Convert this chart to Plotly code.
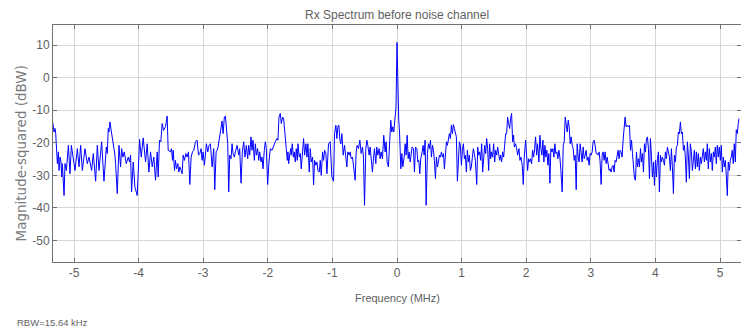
import plotly.graph_objects as go

# ---- data (frequency in MHz, power in dBW) ----
seg1_f = [-5.334,-5.309,-5.293,-5.283,-5.257,-5.242,-5.231,-5.216,-5.201,-5.190,
          -5.180,-5.154,-5.139,-5.118,-5.087,-5.062,-5.041,-5.015,-4.984,-4.948,
          -4.922,-4.897,-4.871,-4.830,-4.794,-4.768,-4.727,-4.701,-4.675,-4.665,
          -4.639,-4.613,-4.572,-4.536,-4.500,-4.485,-4.469,-4.459,-4.444,-4.418,
          -4.397,-4.366,-4.356,-4.330,-4.304,-4.279,-4.263,-4.243,-4.222,-4.191,
          -4.160,-4.140,-4.124,-4.109,-4.083,-4.073,-4.057,-4.021,-3.985,-3.959,
          -3.929,-3.892,-3.867,-3.841,-3.815,-3.789,-3.764,-3.738,-3.712,-3.697,
          -3.676,-3.656,-3.635,-3.614,-3.583,-3.558,-3.542]
seg1_p = [-13.1,-16.7,-15.6,-17.2,-26.4,-22.8,-28.5,-24.4,-25.9,-30.5,
          -26.4,-36.2,-26.4,-28.5,-20.8,-29.5,-20.8,-24.4,-28.5,-21.8,
          -27.4,-20.8,-28.5,-21.8,-26.4,-24.4,-28.5,-23.3,-29.0,-31.8,
          -20.8,-28.5,-19.7,-31.8,-21.3,-23.3,-15.6,-16.7,-13.6,-16.7,
          -20.3,-23.8,-26.4,-35.6,-20.8,-27.4,-21.8,-24.4,-22.8,-26.4,
          -24.4,-25.9,-23.8,-35.1,-25.9,-29.5,-33.6,-36.2,-19.0,-24.4,
          -18.5,-25.9,-20.3,-29.0,-22.8,-27.4,-24.4,-31.5,-22.8,-30.5,
          -19.2,-19.7,-14.1,-16.2,-15.1,-11.8,-22.3]

seg2_f = [-3.506,-3.491,-3.475,-3.465,-3.444,-3.429,-3.413,-3.393,-3.377,-3.362,
          -3.341,-3.326,-3.310,-3.290,-3.269,-3.249,-3.228,-3.207,-3.187,-3.166,
          -3.145,-3.120,-3.094,-3.073,-3.053,-3.032,-3.017,-3.001,-2.981,-2.965,
          -2.950,-2.929,-2.909,-2.888,-2.862,-2.837,-2.821,-2.800,-2.785,-2.770,
          -2.744,-2.723,-2.708,-2.692,-2.672,-2.656,-2.641,-2.620,-2.605,-2.589,
          -2.569,-2.553,-2.538,-2.517,-2.502,-2.476,-2.450,-2.435,-2.414,-2.394,
          -2.373,-2.353,-2.332,-2.311,-2.296,-2.280,-2.260,-2.244,-2.229,-2.208,
          -2.193,-2.177,-2.157,-2.141,-2.126,-2.105,-2.090,-2.074,-2.054,-2.038,
          -2.023,-2.002,-1.982,-1.961,-1.935,-1.909,-1.884,-1.858,-1.843,-1.827,
          -1.807,-1.791,-1.770,-1.755]
seg2_p = [-22.8,-21.8,-25.4,-22.3,-28.5,-25.4,-28.0,-26.4,-29.0,-27.4,
          -28.5,-29.5,-23.8,-25.4,-23.3,-24.4,-22.8,-32.8,-24.4,-22.8,
          -22.3,-19.7,-19.2,-23.8,-23.3,-21.8,-25.4,-22.8,-26.9,-24.4,
          -20.3,-22.8,-20.8,-20.3,-27.4,-21.8,-34.4,-22.8,-22.3,-21.3,
          -17.2,-15.1,-13.3,-17.2,-12.1,-11.8,-16.2,-20.3,-35.1,-23.8,
          -24.9,-20.3,-23.3,-24.4,-22.8,-20.8,-23.8,-21.8,-32.4,-22.8,
          -19.7,-24.4,-20.8,-24.9,-20.8,-23.8,-18.2,-22.3,-19.2,-25.4,
          -20.3,-23.8,-21.8,-25.4,-22.8,-25.9,-24.4,-28.0,-22.3,-19.7,
          -21.8,-32.8,-25.9,-21.8,-22.3,-20.8,-19.7,-18.7,-19.2,-12.1,
          -11.0,-14.1,-12.1,-12.6]

seg3_f = [-1.739,-1.729,-1.714,-1.698,-1.688,-1.677,-1.662,-1.647,-1.636,-1.621,
          -1.605,-1.590,-1.575,-1.559,-1.544,-1.533,-1.513,-1.497,-1.482,-1.461,
          -1.446,-1.430,-1.410,-1.394,-1.379,-1.358,-1.343,-1.327,-1.307,-1.291,
          -1.276,-1.255,-1.240,-1.224,-1.204,-1.188,-1.173,-1.152,-1.137,-1.121,
          -1.101,-1.085,-1.060,-1.034,-1.008,-0.982,-0.967,-0.946,-0.931,-0.915,
          -0.900,-0.884,-0.869,-0.854,-0.833,-0.812,-0.792,-0.776,-0.761,-0.740,
          -0.725,-0.709,-0.689,-0.673,-0.648,-0.632,-0.617,-0.596,-0.575,-0.555,
          -0.534,-0.519,-0.503,-0.483,-0.467,-0.452,-0.431,-0.416,-0.400,-0.380,
          -0.364,-0.349,-0.328,-0.313,-0.297,-0.277,-0.261,-0.246,-0.225,-0.205,
          -0.184,-0.169,-0.153,-0.133,-0.112,-0.096,-0.081,-0.066,-0.050]
seg3_p = [-17.2,-20.8,-21.8,-25.4,-22.8,-26.4,-24.4,-21.8,-23.8,-20.3,
          -24.4,-22.8,-25.9,-21.8,-25.4,-20.3,-24.4,-23.3,-28.0,-22.3,
          -18.7,-23.8,-20.3,-24.4,-20.3,-29.0,-21.8,-25.9,-24.4,-32.9,
          -25.4,-26.9,-25.9,-28.5,-29.0,-25.4,-30.0,-22.8,-25.4,-22.3,
          -23.3,-29.5,-20.3,-19.7,-30.5,-31.8,-17.2,-14.6,-18.7,-15.1,
          -14.6,-19.2,-20.3,-17.2,-23.8,-20.8,-24.4,-27.4,-22.8,-23.8,
          -22.8,-24.9,-24.4,-27.4,-31.5,-22.8,-20.8,-21.8,-19.2,-23.3,
          -21.3,-24.4,-39.2,-21.8,-19.2,-20.8,-23.8,-21.3,-24.9,-29.0,
          -24.9,-21.8,-26.4,-21.3,-23.8,-21.8,-24.9,-22.8,-24.9,-17.7,
          -22.8,-19.7,-25.9,-27.4,-19.2,-13.1,-16.7,-15.1,-16.7]

carrier_f = [-0.031, -0.015, 0.0, 0.015, 0.027]
carrier_p = [-12.5, -9.0, 10.8, -10.0, -13.0]

seg4_f = [0.039,0.059,0.075,0.090,0.111,0.126,0.142,0.157,0.173,0.188,
          0.204,0.219,0.234,0.255,0.270,0.286,0.307,0.322,0.337,0.353,
          0.368,0.389,0.404,0.420,0.435,0.451,0.471,0.487,0.502,0.518,
          0.533,0.549,0.564,0.579,0.595,0.610,0.626,0.641,0.657,0.672,
          0.688,0.703,0.719,0.734,0.749,0.765,0.780,0.796,0.811,0.827,
          0.842,0.858,0.873,0.888,0.904,0.919,0.935,0.950,0.966,0.981,
          0.997,1.012,1.028,1.043,1.058,1.074,1.089,1.105,1.120,1.136,
          1.151,1.167,1.182,1.197,1.213,1.234,1.249,1.264,1.280,1.295,
          1.311,1.326,1.342,1.357,1.373,1.388,1.403,1.419,1.434,1.450,
          1.465,1.481,1.496,1.512,1.527,1.543,1.558,1.573,1.589,1.604,
          1.620,1.635,1.651,1.666,1.682,1.697,1.712,1.728,1.743,1.759,
          1.774,1.790]
seg4_p = [-16.7,-28.0,-23.3,-27.4,-24.4,-20.3,-23.8,-17.7,-24.9,-22.8,
          -25.9,-23.3,-21.3,-21.8,-29.0,-21.3,-21.8,-25.9,-25.4,-29.5,
          -24.9,-22.8,-20.8,-23.8,-19.2,-39.2,-23.3,-20.3,-21.8,-19.2,
          -24.4,-20.8,-22.3,-25.4,-31.0,-24.4,-27.4,-25.9,-23.8,-24.4,
          -22.8,-24.4,-23.3,-28.0,-24.4,-19.7,-20.8,-19.2,-17.2,-18.7,
          -14.6,-17.2,-14.4,-15.6,-17.2,-18.2,-31.8,-24.4,-19.7,-20.8,
          -26.9,-22.3,-20.3,-24.9,-23.8,-29.0,-22.3,-25.9,-23.8,-28.5,
          -27.4,-24.4,-21.8,-23.3,-25.4,-32.8,-21.3,-23.8,-22.8,-25.4,
          -20.3,-29.0,-24.4,-20.8,-23.3,-18.7,-21.8,-28.5,-20.3,-24.9,
          -22.8,-24.4,-20.3,-25.9,-22.3,-23.8,-21.3,-22.8,-25.4,-23.8,
          -25.9,-22.8,-24.4,-20.8,-17.2,-17.2,-12.1,-14.1,-15.6,-12.6,
          -11.0,-19.7]

seg5_f = [1.805,1.816,1.836,1.852,1.867,1.888,1.903,1.919,1.939,1.955,
          1.970,1.991,2.006,2.022,2.037,2.053,2.068,2.084,2.099,2.114,
          2.130,2.145,2.161,2.176,2.197,2.212,2.228,2.243,2.259,2.274,
          2.290,2.305,2.320,2.336,2.351,2.367,2.382,2.398,2.413,2.429,
          2.444,2.459,2.475,2.490,2.506,2.521,2.537,2.557,2.573,2.588,
          2.604,2.619,2.635,2.650,2.665,2.681,2.696,2.712,2.727,2.743,
          2.758,2.774,2.789,2.805,2.820,2.835,2.851,2.866,2.882,2.897,
          2.913,2.928,2.944,2.959,2.974,2.990,3.005,3.021,3.036,3.052,
          3.067,3.083,3.098,3.114,3.129,3.144,3.160,3.175,3.191,3.206,
          3.222,3.237,3.253,3.268,3.283,3.299,3.314,3.330,3.345,3.361,
          3.376,3.392,3.407,3.422,3.438,3.453,3.469,3.484,3.500,3.515,
          3.531,3.546,3.561,3.577]
seg5_p = [-17.7,-21.3,-20.3,-21.8,-23.8,-21.8,-25.4,-24.4,-26.9,-32.8,
          -24.4,-19.2,-23.8,-28.5,-24.9,-25.9,-24.9,-26.4,-22.3,-24.4,
          -21.8,-18.2,-23.8,-20.3,-25.9,-17.7,-21.8,-23.8,-19.2,-25.9,
          -20.8,-24.4,-22.3,-26.9,-23.3,-32.4,-21.8,-22.8,-21.8,-24.4,
          -20.3,-23.3,-22.8,-24.9,-22.3,-24.4,-28.5,-35.1,-20.8,-19.7,
          -12.1,-14.1,-16.7,-13.1,-15.1,-20.3,-18.2,-20.8,-21.8,-25.4,
          -23.8,-34.4,-20.3,-24.4,-25.9,-20.3,-24.4,-25.9,-21.3,-24.9,
          -23.8,-22.3,-25.4,-24.4,-26.9,-23.3,-23.8,-22.8,-19.7,-19.2,
          -20.8,-23.3,-23.3,-23.8,-22.8,-25.9,-32.8,-23.8,-22.8,-25.4,
          -22.8,-26.4,-24.4,-27.4,-28.5,-28.0,-29.0,-27.4,-26.9,-29.0,
          -25.4,-25.9,-24.4,-22.3,-24.9,-22.3,-22.8,-24.4,-19.2,-14.6,
          -12.1,-15.1,-14.6,-15.1]

seg6_f = [3.599,3.614,3.630,3.645,3.661,3.676,3.692,3.707,3.722,3.738,
          3.753,3.769,3.784,3.800,3.815,3.831,3.846,3.862,3.877,3.892,
          3.908,3.923,3.939,3.954,3.970,3.985,4.001,4.016,4.031,4.047,
          4.062,4.078,4.093,4.109,4.124,4.140,4.155,4.170,4.186,4.201,
          4.217,4.232,4.248,4.263,4.279,4.294,4.310,4.325,4.340,4.356,
          4.371,4.387,4.402,4.418,4.433,4.449,4.464,4.479,4.495,4.510,
          4.526,4.541,4.557,4.572,4.588,4.603,4.619,4.634,4.649,4.665,
          4.680,4.696,4.711,4.727,4.742,4.758,4.773,4.789,4.804,4.819,
          4.835,4.850,4.866,4.881,4.897,4.912,4.928,4.943,4.958,4.974,
          4.989,5.005,5.020,5.036,5.051,5.067,5.082,5.098,5.113,5.128,
          5.144,5.159,5.175,5.190,5.206,5.221,5.237,5.252,5.267,5.283,
          5.293]
seg6_p = [-14.6,-22.3,-19.2,-23.3,-27.4,-31.0,-31.5,-22.8,-27.4,-24.9,
          -27.4,-21.8,-25.9,-23.3,-29.0,-20.3,-22.8,-18.7,-18.2,-21.8,
          -31.0,-18.7,-24.4,-30.5,-25.9,-33.1,-25.4,-30.5,-24.9,-22.8,
          -35.1,-23.8,-25.9,-24.4,-25.4,-26.9,-22.8,-24.9,-21.3,-22.8,
          -24.4,-28.5,-21.8,-27.4,-35.6,-23.8,-25.9,-21.3,-20.8,-16.7,
          -17.2,-13.6,-17.2,-16.7,-22.3,-20.8,-24.4,-32.1,-19.7,-23.8,
          -31.0,-20.3,-22.8,-28.5,-24.9,-22.3,-28.0,-22.8,-27.4,-23.3,
          -28.5,-24.4,-26.4,-22.8,-21.8,-25.9,-22.8,-25.4,-20.3,-28.0,
          -21.8,-25.9,-23.3,-28.5,-22.8,-24.4,-21.3,-26.4,-20.8,-24.4,
          -21.3,-25.4,-20.8,-29.0,-24.4,-27.4,-25.4,-30.0,-36.2,-25.9,
          -28.5,-25.4,-24.4,-22.3,-26.4,-20.3,-25.9,-16.0,-17.2,-14.1,
          -12.6]

x_ticks = [-5, -4, -3, -2, -1, 0, 1, 2, 3, 4, 5]
y_ticks = [-50, -40, -30, -20, -10, 0, 10]

freq_mhz = seg1_f + seg2_f + seg3_f + carrier_f + seg4_f + seg5_f + seg6_f
power_dbw = seg1_p + seg2_p + seg3_p + carrier_p + seg4_p + seg5_p + seg6_p
assert len(freq_mhz) == len(power_dbw)

SANS = "Liberation Sans, Arial, sans-serif"
WIDE = "DejaVu Sans, Liberation Sans, sans-serif"
TXT = "#5f5f5f"
AX = "#707070"
GRID = "#d6d6d6"

fig = go.Figure(go.Scatter(x=freq_mhz, y=power_dbw, mode="lines",
                           line=dict(color="#0000ff", width=1), hoverinfo="skip"))

axis_common = dict(showgrid=True, gridcolor=GRID, gridwidth=1, zeroline=False,
                   showline=True, linecolor=AX, linewidth=1, mirror="ticks",
                   ticks="inside", ticklen=4, tickcolor=AX, tickwidth=1,
                   tickfont=dict(family=SANS, size=12, color=TXT))

fig.update_xaxes(range=[-5.325, 5.325], tickvals=x_ticks,
                 ticktext=[str(v) for v in x_ticks], **axis_common)
fig.update_yaxes(range=[-56.6, 16.15], tickvals=y_ticks,
                 ticktext=[str(v) for v in y_ticks], **axis_common)

# the page body adds an 8 px offset, so the figure is 741x321 placed at (8, 8)
PH = 237.0
fig.update_layout(
    width=741, height=321,
    margin=dict(l=45, r=8, t=17, b=67, pad=0),
    paper_bgcolor="white", plot_bgcolor="white",
    showlegend=False,
    font=dict(family=SANS, color=TXT),
    annotations=[
        dict(text="Rx Spectrum before noise channel", xref="paper", yref="paper",
             x=0.5, y=1 + 10 / PH, xanchor="center", yanchor="middle",
             showarrow=False, font=dict(family=SANS, size=12, color=TXT)),
        dict(text="Frequency (MHz)", xref="paper", yref="paper",
             x=0.5, y=-(297 - 261.5) / PH, xanchor="center", yanchor="middle",
             showarrow=False, font=dict(family=SANS, size=11, color=TXT)),
        dict(text="Magnitude-squared (dBW)", xref="paper", yref="paper",
             x=-(53 - 21) / 688, y=0.5 - 10 / PH, xanchor="center", yanchor="middle",
             textangle=-90, showarrow=False,
             font=dict(family=WIDE, size=13.5, color="#7a7a7a")),
        dict(text="RBW=15.64 kHz", xref="paper", yref="paper",
             x=-(53 - 15) / 688, y=-(321.5 - 261.5) / PH, xanchor="left", yanchor="middle",
             showarrow=False, font=dict(family=SANS, size=9.5, color=TXT)),
    ],
)

fig.write_html("out.html")
